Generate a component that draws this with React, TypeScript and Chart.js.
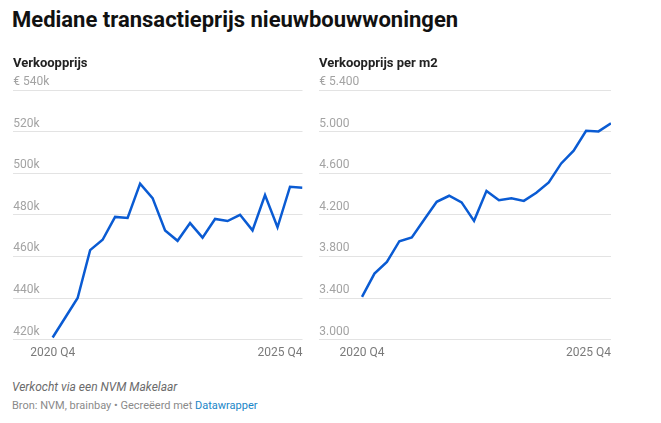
import React, { useEffect, useRef } from 'react';
import { Chart, registerables } from 'chart.js';

Chart.register(...registerables);

const quarters = [
  '2020 Q4', '2021 Q1', '2021 Q2', '2021 Q3', '2021 Q4',
  '2022 Q1', '2022 Q2', '2022 Q3', '2022 Q4',
  '2023 Q1', '2023 Q2', '2023 Q3', '2023 Q4',
  '2024 Q1', '2024 Q2', '2024 Q3', '2024 Q4',
  '2025 Q1', '2025 Q2', '2025 Q3', '2025 Q4',
];

const price = [
  421000, 430500, 440000, 463000, 468000, 479000, 478500, 495000, 488000,
  472500, 467500, 476000, 469000, 478000, 477000, 480000, 472500, 489500,
  474000, 493500, 493000,
];

const pricePerM2 = [
  3410, 3635, 3747, 3946, 3982, 4155, 4325, 4383, 4319, 4142, 4430, 4341,
  4360, 4334, 4412, 4511, 4694, 4816, 5008, 5002, 5079,
];

const xTickLabels = [quarters[0], quarters[quarters.length - 1]];

const FONT = 'Roboto, "Noto Sans", Arial, sans-serif';
const LINE = '#0a5bd3';
const CANVAS_H = 367;

function fmtThousandsK(v: number, top: boolean) {
  const s = Math.round(v / 1000) + 'k';
  return top ? '€ ' + s : s;
}
function fmtDots(v: number, top: boolean) {
  const s = String(Math.round(v)).replace(/\B(?=(\d{3})+(?!\d))/g, '.');
  return top ? '€ ' + s : s;
}

type Props = {
  values: number[];
  left: number;
  width: number;
  padLeft: number;
  padRight: number;
  xMin: number;
  yMin: number;
  yMax: number;
  step: number;
  fmt: (v: number, top: boolean) => string;
};

function LineChart(p: Props) {
  const ref = useRef<HTMLCanvasElement | null>(null);
  useEffect(() => {
    if (!ref.current) return;
    const last = p.values.length - 1;
    const chart = new Chart(ref.current, {
      type: 'line',
      data: {
        datasets: [
          {
            data: p.values.map((v, i) => ({ x: i, y: v })),
            borderColor: LINE,
            borderWidth: 2.5,
            pointRadius: 0,
            tension: 0,
            fill: false,
          },
        ],
      },
      options: {
        animation: false,
        responsive: false,
        maintainAspectRatio: false,
        layout: { padding: { left: p.padLeft, right: p.padRight, top: 90, bottom: 0 } },
        plugins: { legend: { display: false }, tooltip: { enabled: false } },
        scales: {
          x: {
            type: 'linear',
            min: p.xMin,
            max: last,
            grid: { display: false, drawTicks: false },
            border: { display: false },
            afterBuildTicks: (scale: any) => {
              scale.ticks = [{ value: p.xMin }, { value: 0 }, { value: last }];
            },
            ticks: {
              autoSkip: false,
              maxRotation: 0,
              align: 'inner',
              padding: 6.5,
              color: '#7a7a7a',
              font: { family: FONT, size: 12 },
              callback: (v: any) => {
                if (v === 0) return xTickLabels[0];
                if (v === last) return xTickLabels[1];
                return '';
              },
            },
          },
          y: {
            min: p.yMin,
            max: p.yMax,
            grid: { color: '#e3e3e3', drawTicks: false, lineWidth: 1 },
            border: { display: false },
            ticks: {
              stepSize: p.step,
              mirror: true,
              padding: 0,
              labelOffset: -8,
              color: '#a3a3a3',
              font: { family: FONT, size: 12 },
              callback: (v: any) => p.fmt(Number(v), Number(v) === p.yMax),
            },
          },
        },
      },
    } as any);
    return () => chart.destroy();
  }, []);
  return (
    <canvas
      ref={ref}
      width={p.width}
      height={CANVAS_H}
      style={{ position: 'absolute', left: p.left, top: 0, width: p.width, height: CANVAS_H }}
    />
  );
}

export default function App() {
  return (
    <div
      style={{
        position: 'fixed',
        left: 0,
        top: 0,
        width: 661,
        height: 423,
        background: '#fff',
        fontFamily: FONT,
        overflow: 'hidden',
      }}
    >
      <div
        style={{
          position: 'absolute', left: 12, top: 9, fontSize: 22, lineHeight: '22px',
          fontWeight: 700, color: '#111', whiteSpace: 'nowrap',
        }}
      >
        Mediane transactieprijs nieuwbouwwoningen
      </div>
      <LineChart
        values={price}
        left={0}
        width={310}
        padLeft={13.3}
        padRight={7.5}
        xMin={-3.15}
        yMin={420000}
        yMax={540000}
        step={20000}
        fmt={fmtThousandsK}
      />
      <LineChart
        values={pricePerM2}
        left={310}
        width={351}
        padLeft={9.3}
        padRight={50}
        xMin={-3.43}
        yMin={3000}
        yMax={5400}
        step={400}
        fmt={fmtDots}
      />
      <div
        style={{
          position: 'absolute', left: 13, top: 56.4, fontSize: 13, lineHeight: '13px',
          fontWeight: 700, color: '#222', whiteSpace: 'nowrap',
        }}
      >
        Verkoopprijs
      </div>
      <div
        style={{
          position: 'absolute', left: 319, top: 56.4, fontSize: 13, lineHeight: '13px',
          fontWeight: 700, color: '#222', whiteSpace: 'nowrap',
        }}
      >
        Verkoopprijs per m2
      </div>
      <div
        style={{
          position: 'absolute', left: 12, top: 380.6, fontSize: 12, lineHeight: '12px',
          fontStyle: 'italic', color: '#6b6b6b', whiteSpace: 'nowrap',
        }}
      >
        Verkocht via een NVM Makelaar
      </div>
      <div
        style={{
          position: 'absolute', left: 12, top: 400, fontSize: 11, lineHeight: '11px',
          color: '#8a8a8a', whiteSpace: 'nowrap',
        }}
      >
        Bron: NVM, brainbay • Gecreëerd met <span style={{ color: '#1a86c8' }}>Datawrapper</span>
      </div>
    </div>
  );
}
